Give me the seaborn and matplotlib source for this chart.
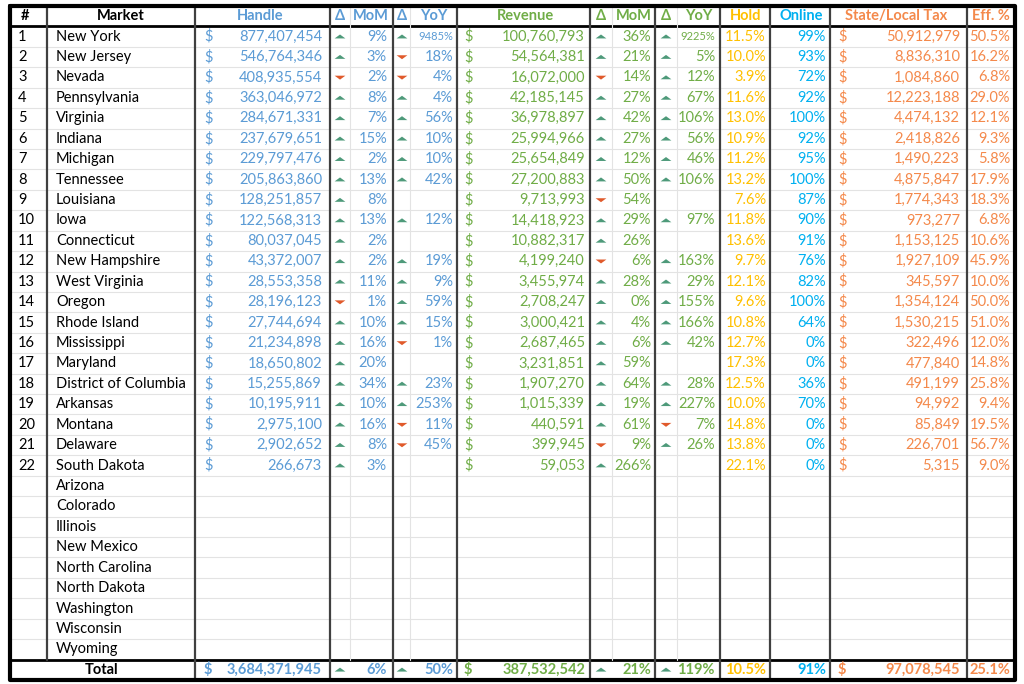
import matplotlib.pyplot as plt
import seaborn as sns

markets = ["New York", "New Jersey", "Nevada", "Pennsylvania", "Virginia", "Indiana",
           "Michigan", "Tennessee", "Louisiana", "Iowa", "Connecticut", "New Hampshire",
           "West Virginia", "Oregon", "Rhode Island", "Mississippi", "Maryland",
           "District of Columbia", "Arkansas", "Montana", "Delaware", "South Dakota",
           "Arizona", "Colorado", "Illinois", "New Mexico", "North Carolina",
           "North Dakota", "Washington", "Wisconsin", "Wyoming"]
handle = [877407454, 546764346, 408935554, 363046972, 284671331, 237679651, 229797476,
          205863860, 128251857, 122568313, 80037045, 43372007, 28553358, 28196123,
          27744694, 21234898, 18650802, 15255869, 10195911, 2975100, 2902652, 266673]
handle_mom = [9, 3, -2, 8, 7, 15, 2, 13, 8, 13, 2, 2, 11, -1, 10, 16, 20, 34, 10, 16, 8, 3]
handle_yoy = [9485, -18, -4, 4, 56, 10, 10, 42, None, 12, None, 19, 9, 59, 15, -1, None,
              23, 253, -11, -45, None]
revenue = [100760793, 54564381, 16072000, 42185145, 36978897, 25994966, 25654849,
           27200883, 9713993, 14418923, 10882317, 4199240, 3455974, 2708247, 3000421,
           2687465, 3231851, 1907270, 1015339, 440591, 399945, 59053]
rev_mom = [36, 21, -14, 27, 42, 27, 12, 50, -54, 29, 26, -6, 28, 0, 4, 6, 59, 64, 19,
           61, -9, 266]
rev_yoy = [9225, 5, 12, 67, 106, 56, 46, 106, None, 97, None, 163, 29, 155, 166, 42,
           None, 28, 227, -7, 26, None]
hold = [11.5, 10.0, 3.9, 11.6, 13.0, 10.9, 11.2, 13.2, 7.6, 11.8, 13.6, 9.7, 12.1, 9.6,
        10.8, 12.7, 17.3, 12.5, 10.0, 14.8, 13.8, 22.1]
online = [99, 93, 72, 92, 100, 92, 95, 100, 87, 90, 91, 76, 82, 100, 64, 0, 0, 36, 70,
          0, 0, 0]
tax = [50912979, 8836310, 1084860, 12223188, 4474132, 2418826, 1490223, 4875847,
       1774343, 973277, 1153125, 1927109, 345597, 1354124, 1530215, 322496, 477840,
       491199, 94992, 85849, 226701, 5315]
eff = [50.5, 16.2, 6.8, 29.0, 12.1, 9.3, 5.8, 17.9, 18.3, 6.8, 10.6, 45.9, 10.0, 50.0,
       51.0, 12.0, 14.8, 25.8, 9.4, 19.5, 56.7, 9.0]
total_handle, total_handle_mom, total_handle_yoy = 3684371945, 6, 50
total_rev, total_rev_mom, total_rev_yoy = 387532542, 21, 119
total_hold, total_online, total_tax, total_eff = 10.5, 91, 97078545, 25.1

BLUE, GREEN, GOLD, CYAN, ORANGE = "#5B9BD5", "#70AD47", "#FFC000", "#00B0F0", "#F4894B"
UP, DOWN = "#4E9A7A", "#E05A2B"
UP_MARK = [(-1.5, -0.55), (1.5, -0.55), (0.35, 0.55), (-0.35, 0.55)]
UP_MARK = [(-1.5, -0.5), (1.5, -0.5), (0, 0.6)]
DOWN_MARK = [(-1.5, 0.5), (1.5, 0.5), (0, -0.6)]

sns.set_theme(style="white", rc={"font.family": "Lato"})
fig = plt.figure(figsize=(10.24, 6.84), dpi=100)
ax = fig.add_axes([0, 0, 1, 1])
ax.set_xlim(0, 1024)
ax.set_ylim(684, 0)
ax.axis("off")

top, bot = 6, 680
nrows = len(markets) + 2
rh = (bot - top) / nrows
def ry(i):
    return top + rh * (i + 0.5)

# grid
for i in range(1, nrows):
    y = top + rh * i
    thick = i in (1, nrows - 1)
    ax.plot([10, 1015], [y, y], color="black" if thick else "#e3e3e3",
            lw=2 if thick else 0.8, zorder=1)
for x in [350, 410, 612, 677]:
    ax.plot([x, x], [top, bot - rh], color="#e3e3e3", lw=0.8, zorder=1)
for x in [47, 195, 330, 393, 457, 590, 655, 720, 770, 830, 967]:
    ax.plot([x, x], [top, bot - (rh if x == 47 else 0)], color="#404040", lw=1.6, zorder=2)
ax.plot([10, 1015, 1015, 10, 10], [top, top, bot, bot, top], color="black", lw=3, zorder=3)

fs = 10.5
def t(x, y, s, c="black", ha="center", w="normal", size=fs):
    ax.text(x, y, s, color=c, ha=ha, va="center", fontsize=size, fontweight=w)

hy = ry(0)
t(25, hy, "#", w="bold")
t(121, hy, "Market", w="bold")
t(260, hy, "Handle", BLUE, w="bold")
t(340, hy, "Δ", BLUE, w="bold")
t(371, hy, "MoM", BLUE, w="bold")
t(402, hy, "Δ", BLUE, w="bold")
t(434, hy, "YoY", BLUE, w="bold")
t(525, hy, "Revenue", GREEN, w="bold")
t(601, hy, "Δ", GREEN, w="bold")
t(634, hy, "MoM", GREEN, w="bold")
t(666, hy, "Δ", GREEN, w="bold")
t(699, hy, "YoY", GREEN, w="bold")
t(746, hy, "Hold", GOLD, w="bold")
t(801, hy, "Online", CYAN, w="bold")
t(896, hy, "State/Local Tax", ORANGE, w="bold")
t(991, hy, "Eff. %", ORANGE, w="bold")

def arrow(x, y, v):
    up = v >= 0
    ax.scatter([x], [y], marker=UP_MARK if up else DOWN_MARK, s=60,
               color=UP if up else DOWN, edgecolor="none", zorder=4)

def pct(x, y, v, c):
    s = f"{abs(v)}%"
    t(x, y, s, c, ha="right", size=fs - 2.5 if abs(v) > 999 else fs)

for i, name in enumerate(markets):
    y = ry(i + 1)
    t(56, y, name, ha="left")
    if i >= len(handle):
        continue
    t(18, y, str(i + 1), ha="left")
    t(204, y, "$", BLUE, ha="left")
    t(322, y, f"{handle[i]:,}", BLUE, ha="right")
    arrow(340, y, handle_mom[i]); pct(387, y, handle_mom[i], BLUE)
    if handle_yoy[i] is not None:
        arrow(402, y, handle_yoy[i]); pct(453, y, handle_yoy[i], BLUE)
    t(464, y, "$", GREEN, ha="left")
    t(585, y, f"{revenue[i]:,}", GREEN, ha="right")
    arrow(601, y, rev_mom[i]); pct(651, y, rev_mom[i], GREEN)
    if rev_yoy[i] is not None:
        arrow(666, y, rev_yoy[i]); pct(715, y, rev_yoy[i], GREEN)
    t(766, y, f"{hold[i]:.1f}%", GOLD, ha="right")
    t(826, y, f"{online[i]}%", CYAN, ha="right")
    t(838, y, "$", ORANGE, ha="left")
    t(960, y, f"{tax[i]:,}", ORANGE, ha="right")
    t(1010, y, f"{eff[i]:.1f}%", ORANGE, ha="right")

y = ry(nrows - 1)
t(102, y, "Total", w="bold")
t(204, y, "$", BLUE, ha="left", w="bold")
t(322, y, f"{total_handle:,}", BLUE, ha="right", w="bold")
arrow(340, y, total_handle_mom); t(387, y, f"{total_handle_mom}%", BLUE, ha="right", w="bold")
arrow(402, y, total_handle_yoy); t(453, y, f"{total_handle_yoy}%", BLUE, ha="right", w="bold")
t(464, y, "$", GREEN, ha="left", w="bold")
t(585, y, f"{total_rev:,}", GREEN, ha="right", w="bold")
arrow(601, y, total_rev_mom); t(651, y, f"{total_rev_mom}%", GREEN, ha="right", w="bold")
arrow(666, y, total_rev_yoy); t(715, y, f"{total_rev_yoy}%", GREEN, ha="right", w="bold")
t(766, y, f"{total_hold:.1f}%", GOLD, ha="right", w="bold")
t(826, y, f"{total_online}%", CYAN, ha="right", w="bold")
t(838, y, "$", ORANGE, ha="left", w="bold")
t(960, y, f"{total_tax:,}", ORANGE, ha="right", w="bold")
t(1010, y, f"{total_eff:.1f}%", ORANGE, ha="right", w="bold")

fig.savefig("out.png", dpi=100, facecolor="white")
